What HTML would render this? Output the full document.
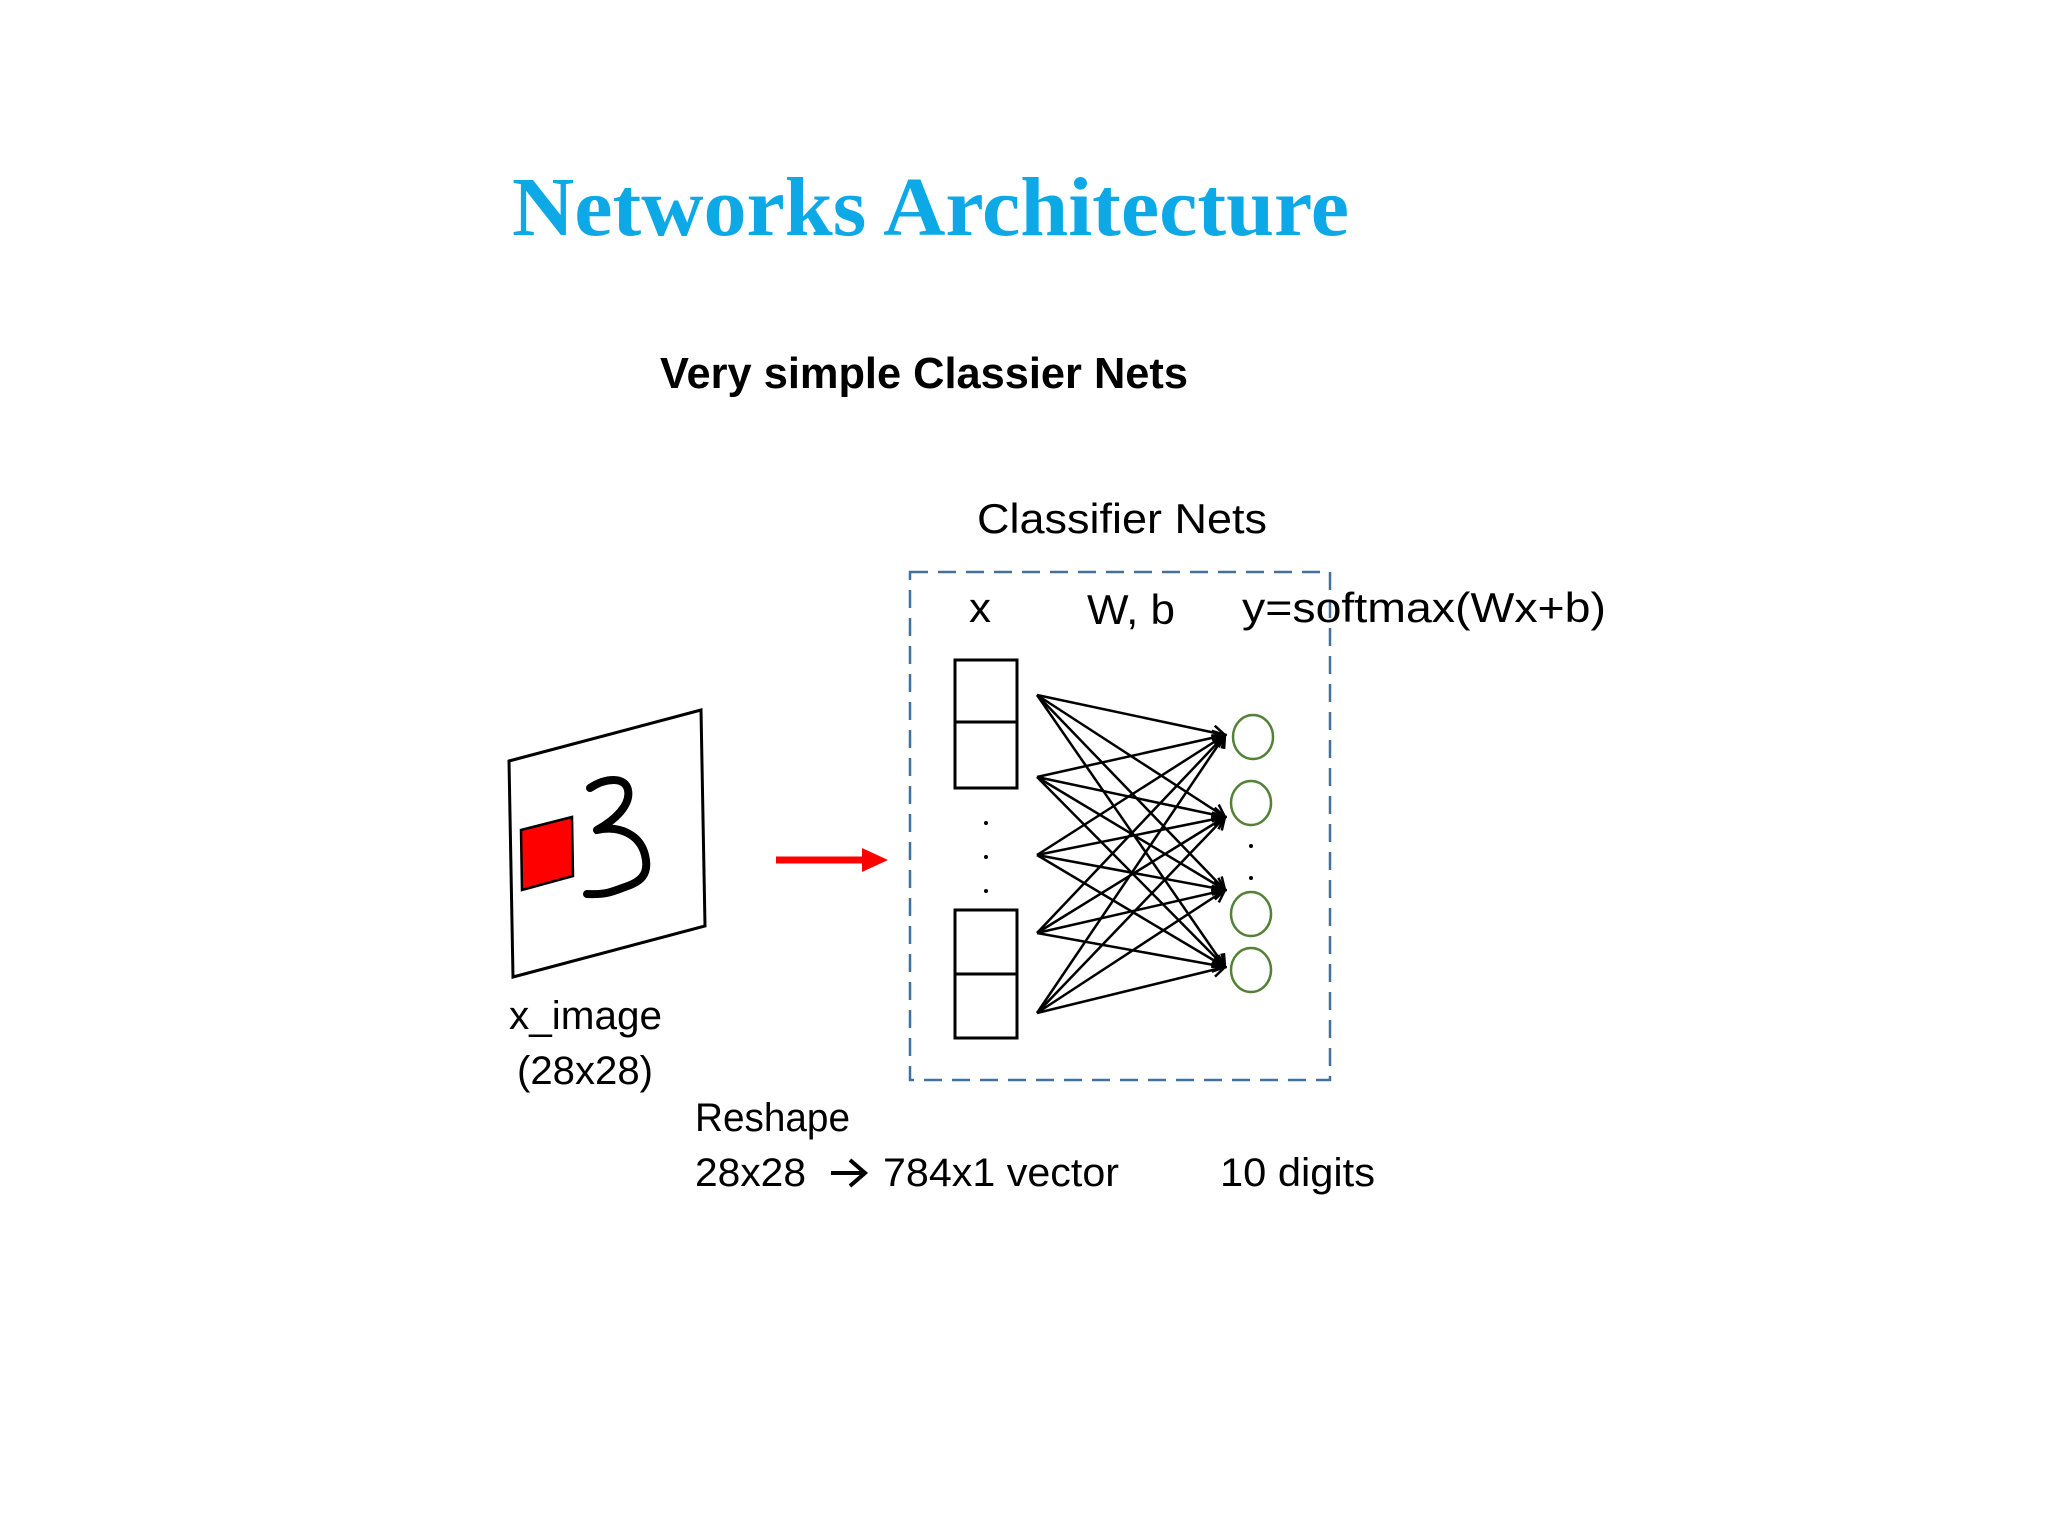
<!DOCTYPE html>
<html><head><meta charset="utf-8"><style>
html,body{margin:0;padding:0;background:#fff;}
svg{display:block;}
</style></head><body>
<svg width="2048" height="1536" viewBox="0 0 2048 1536" xmlns="http://www.w3.org/2000/svg">
<defs>
<marker id="ah" markerWidth="16" markerHeight="16" refX="14" refY="8" orient="auto" markerUnits="userSpaceOnUse">
<path d="M2,1 L14,8 L2,15" fill="none" stroke="#000" stroke-width="2.5"/>
</marker>
</defs>
<rect width="2048" height="1536" fill="#fff"/>
<text x="512" y="235" font-family="Liberation Serif, serif" font-weight="bold" font-size="84" fill="#0CA9E6" textLength="837" lengthAdjust="spacingAndGlyphs">Networks Architecture</text>
<text x="660" y="388" font-family="Liberation Sans, sans-serif" font-weight="bold" font-size="44" fill="#000" textLength="528" lengthAdjust="spacingAndGlyphs">Very simple Classier Nets</text>
<text x="977" y="533" font-family="Liberation Sans, sans-serif" font-size="42" fill="#000" textLength="290" lengthAdjust="spacingAndGlyphs">Classifier Nets</text>

<rect x="910" y="572" width="420" height="508" fill="none" stroke="#41719C" stroke-width="2.5" stroke-dasharray="18,10"/>

<g font-family="Liberation Sans, sans-serif" font-size="42" fill="#000">
<text x="969" y="622" textLength="22" lengthAdjust="spacingAndGlyphs">x</text>
<text x="1087" y="624" textLength="88" lengthAdjust="spacingAndGlyphs">W, b</text>
<text x="1242" y="622" textLength="364" lengthAdjust="spacingAndGlyphs">y=softmax(Wx+b)</text>
</g>

<g fill="none" stroke="#000" stroke-width="3">
<rect x="955" y="660" width="62" height="128"/>
<line x1="955" y1="722" x2="1017" y2="722"/>
<rect x="955" y="910" width="62" height="128"/>
<line x1="955" y1="974" x2="1017" y2="974"/>
</g>
<g fill="#000">
<circle cx="986" cy="823" r="2"/><circle cx="986" cy="857" r="2"/><circle cx="986" cy="891" r="2"/>
<circle cx="1251" cy="846" r="2"/><circle cx="1251" cy="878" r="2"/>
</g>

<g stroke="#000" stroke-width="2.5" marker-end="url(#ah)">
<line x1="1037" y1="695" x2="1225" y2="735"/><line x1="1037" y1="695" x2="1225" y2="817"/><line x1="1037" y1="695" x2="1225" y2="890"/><line x1="1037" y1="695" x2="1225" y2="967"/>
<line x1="1037" y1="777" x2="1225" y2="735"/><line x1="1037" y1="777" x2="1225" y2="817"/><line x1="1037" y1="777" x2="1225" y2="890"/><line x1="1037" y1="777" x2="1225" y2="967"/>
<line x1="1037" y1="855" x2="1225" y2="735"/><line x1="1037" y1="855" x2="1225" y2="817"/><line x1="1037" y1="855" x2="1225" y2="890"/><line x1="1037" y1="855" x2="1225" y2="967"/>
<line x1="1037" y1="933" x2="1225" y2="735"/><line x1="1037" y1="933" x2="1225" y2="817"/><line x1="1037" y1="933" x2="1225" y2="890"/><line x1="1037" y1="933" x2="1225" y2="967"/>
<line x1="1037" y1="1013" x2="1225" y2="735"/><line x1="1037" y1="1013" x2="1225" y2="817"/><line x1="1037" y1="1013" x2="1225" y2="890"/><line x1="1037" y1="1013" x2="1225" y2="967"/>
</g>

<g fill="none" stroke="#538135" stroke-width="2.5">
<ellipse cx="1253" cy="737" rx="20" ry="22"/>
<ellipse cx="1251" cy="803" rx="20" ry="22"/>
<ellipse cx="1251" cy="914" rx="20" ry="22"/>
<ellipse cx="1251" cy="970" rx="20" ry="22"/>
</g>

<polygon points="509,761 701,710 705,926 513,977" fill="#fff" stroke="#000" stroke-width="3"/>
<polygon points="521,830 572,817 573,876 522,890" fill="#FF0000" stroke="#000" stroke-width="2.5"/>
<path d="M590,788 C605,778 625,776 628,790 C631,805 615,820 597,830 C620,825 640,835 645,855 C650,875 640,882 625,887 C612,892 605,895 587,894" fill="none" stroke="#000" stroke-width="8" stroke-linecap="round" stroke-linejoin="round"/>

<line x1="776" y1="860" x2="865" y2="860" stroke="#FF0000" stroke-width="7"/>
<polygon points="862,848 888,860 862,872" fill="#FF0000"/>

<g font-family="Liberation Sans, sans-serif" font-size="40" fill="#000">
<text x="509" y="1029" textLength="153" lengthAdjust="spacingAndGlyphs">x_image</text>
<text x="517" y="1084" textLength="136" lengthAdjust="spacingAndGlyphs">(28x28)</text>
<text x="695" y="1131" textLength="155" lengthAdjust="spacingAndGlyphs">Reshape</text>
<text x="695" y="1186" textLength="111" lengthAdjust="spacingAndGlyphs">28x28</text>
<text x="883" y="1186" textLength="236" lengthAdjust="spacingAndGlyphs">784x1 vector</text>
<text x="1220" y="1186" textLength="155" lengthAdjust="spacingAndGlyphs">10 digits</text>
</g>
<g stroke="#000" stroke-width="4" fill="none">
<line x1="831" y1="1173" x2="864" y2="1173"/>
<path d="M850,1160 L865,1173 L850,1186"/>
</g>
</svg>
</body></html>
